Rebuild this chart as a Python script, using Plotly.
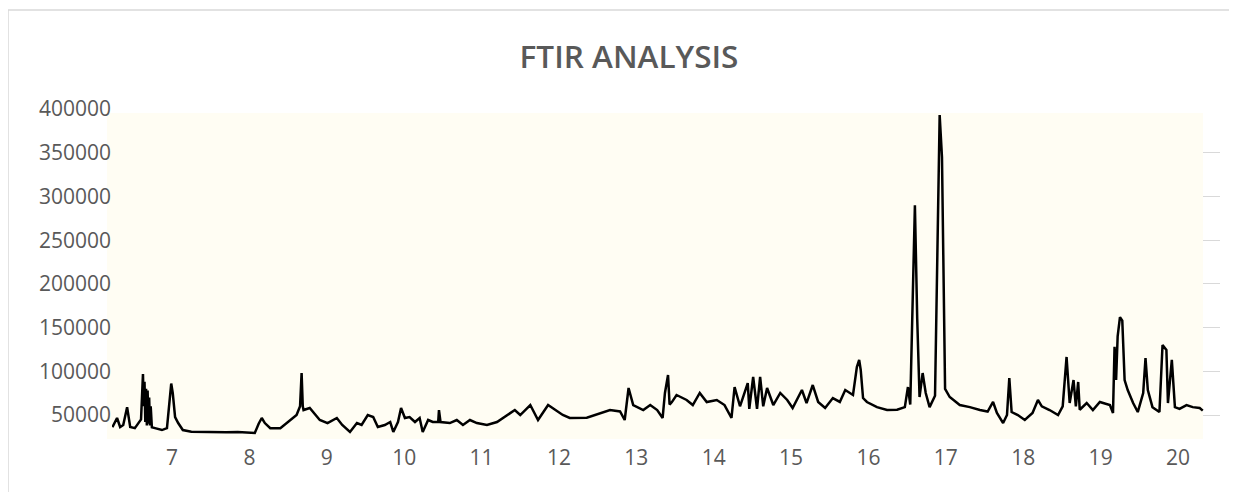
import plotly.graph_objects as go

title_text = "FTIR ANALYSIS"

wavenumber = [
    6.23, 6.29, 6.33, 6.37, 6.42, 6.46, 6.52, 6.57, 6.60, 6.625, 6.635, 6.645, 6.655, 6.665,
    6.675, 6.685, 6.695, 6.705, 6.715, 6.725, 6.74, 6.78, 6.87, 6.935, 6.96, 6.99, 7.01, 7.04,
    7.08, 7.14, 7.25, 7.4, 7.55, 7.7, 7.85, 8.0, 8.07, 8.12, 8.16, 8.20, 8.27, 8.40, 8.50, 8.61,
    8.655, 8.675, 8.69, 8.70, 8.78, 8.91, 9.01, 9.13, 9.20, 9.30, 9.39, 9.45, 9.53, 9.60, 9.66,
    9.75, 9.82, 9.86, 9.92, 9.96, 10.01, 10.07, 10.14, 10.20, 10.24, 10.31, 10.37, 10.44, 10.45,
    10.47, 10.59, 10.68, 10.76, 10.85, 10.94, 11.07, 11.20, 11.28, 11.34, 11.43, 11.50, 11.63,
    11.73, 11.86, 12.05, 12.14, 12.36, 12.53, 12.66, 12.79, 12.85, 12.90, 12.96, 13.09, 13.18,
    13.27, 13.34, 13.37, 13.41, 13.43, 13.46, 13.52, 13.65, 13.73, 13.82, 13.91, 14.04, 14.14,
    14.23, 14.27, 14.34, 14.44, 14.46, 14.51, 14.56, 14.60, 14.64, 14.69, 14.77, 14.86, 14.95,
    15.02, 15.14, 15.20, 15.28, 15.35, 15.44, 15.54, 15.63, 15.70, 15.80, 15.85, 15.88, 15.90,
    15.93, 15.98, 16.11, 16.24, 16.37, 16.47, 16.51, 16.54, 16.565, 16.60, 16.63, 16.66, 16.70,
    16.74, 16.79, 16.86, 16.92, 16.95, 16.99, 17.02, 17.05, 17.18, 17.31, 17.44, 17.54, 17.61,
    17.66, 17.74, 17.79, 17.82, 17.85, 17.93, 18.02, 18.12, 18.19, 18.24, 18.34, 18.45, 18.51,
    18.56, 18.60, 18.65, 18.68, 18.71, 18.73, 18.82, 18.90, 18.99, 19.12, 19.16, 19.18, 19.20,
    19.22, 19.25, 19.28, 19.31, 19.35, 19.42, 19.48, 19.55, 19.58, 19.61, 19.67, 19.76, 19.80,
    19.85, 19.87, 19.92, 19.96, 20.02, 20.11, 20.19, 20.28, 20.32,
]

intensity = [
    36000, 46600, 36300, 38600, 59000, 36300, 35000, 40800, 45000, 97000, 60000, 88000, 42000, 80000,
    38000, 78000, 40000, 70000, 38000, 60000, 36000, 35000, 32800, 35000, 60000, 86000, 75000, 47700,
    40800, 32800, 31000, 30600, 30800, 30200, 30500, 29800, 29400, 40000, 46600, 40800, 35000, 35000, 42000, 50000,
    60000, 98000, 60000, 55700, 58000, 44300, 40800, 46600, 38600, 30600, 40800, 38600, 50000, 47700, 36300,
    38600, 42000, 30600, 42000, 58000, 46600, 47700, 42000, 46600, 30600, 44300, 42000, 42000, 55700,
    42000, 40800, 44300, 38600, 44300, 40800, 38600, 42000, 46600, 50000, 55700, 50000, 61400,
    44300, 61400, 50000, 46600, 47000, 52300, 55700, 54000, 44300, 80900, 61400, 55700, 61400,
    55700, 46600, 75200, 95800, 62000, 64800, 72900, 67200, 61400, 75200, 64800, 67200, 61400,
    46600, 82000, 60000, 86600, 57000, 93500, 57000, 93500, 60000, 80900, 61400, 75200, 67200,
    58000, 78600, 63700, 84300, 64900, 58000, 69400, 65000, 78600, 72900, 104900, 113000, 101500,
    69400, 64900, 59000, 55700, 56000, 59000, 82000, 62000, 170000, 290000, 160000, 70600, 98000,
    75200, 59000, 72000, 393000, 345000, 80000, 75000, 70600, 61400, 59000, 55700, 54000, 64900,
    52300, 40800, 50000, 92300, 53400, 50000, 44300, 52300, 67200, 60000, 55700, 50000, 60000,
    116400, 63700, 90000, 60000, 87800, 56000, 63700, 55700, 64900, 61400, 52300, 128000, 90000,
    140000, 162000, 158000, 90000, 78600, 63700, 53400, 75200, 115200, 78600, 59000, 53400, 130100,
    124400, 63700, 113000, 59000, 57000, 61400, 59000, 58000, 55000,
]

x_ticks = list(range(7, 21))
y_ticks = [50000, 100000, 150000, 200000, 250000, 300000, 350000, 400000]

# the page body adds an 8 px offset; positions below are in screenshot pixels
OFF = 8
W, H = 1237 - OFF, 492 - OFF
L, R, T, B = 112, 1220, 109, 443
X_RANGE = [6.2248, 20.5426]
Y_RANGE = [18000, 400000]


def px_x(p):
    return (p - L) / (R - L)


def px_y(p):
    return (B - p) / (B - T)


def data_x(p):
    return X_RANGE[0] + (p - L) / (R - L) * (X_RANGE[1] - X_RANGE[0])


def data_y(p):
    return Y_RANGE[0] + (B - p) / (B - T) * (Y_RANGE[1] - Y_RANGE[0])


fig = go.Figure()
fig.add_trace(go.Scatter(
    x=wavenumber, y=intensity, mode="lines",
    line=dict(color="#000000", width=2.5),
    showlegend=False, hoverinfo="skip",
))

CREAM = "#FFFDF3"
shapes = [
    # outer chart border
    dict(type="rect", xref="paper", yref="paper",
         x0=px_x(8), x1=px_x(1250), y0=px_y(510), y1=px_y(10),
         line=dict(color="#d9d9d9", width=1.5), fillcolor="rgba(0,0,0,0)", layer="below"),
    # cream backdrop (left strip outside the plot area)
    dict(type="rect", xref="paper", yref="paper",
         x0=px_x(107), x1=px_x(1203), y0=px_y(439), y1=px_y(113),
         line=dict(width=0), fillcolor=CREAM, layer="below"),
    # cream backdrop over the gridlines inside the plot area
    dict(type="rect", xref="x", yref="y",
         x0=X_RANGE[0] - 0.1, x1=data_x(1203), y0=data_y(439), y1=data_y(113),
         line=dict(width=0), fillcolor=CREAM, layer="between"),
    dict(type="rect", xref="x", yref="y",
         x0=X_RANGE[0] - 0.1, x1=data_x(135), y0=data_y(113), y1=Y_RANGE[1] + 10000,
         line=dict(width=0), fillcolor="#ffffff", layer="between"),
]

fig.update_layout(
    width=W, height=H,
    margin=dict(l=L - OFF, r=1237 - R, t=T - OFF, b=492 - B, pad=0),
    paper_bgcolor="#ffffff", plot_bgcolor="#ffffff",
    font=dict(family="Open Sans", color="#595959", size=21),
    title=dict(text=title_text, x=(629 - OFF) / W, xref="container", xanchor="center",
               y=1 - (57 - OFF) / H, yref="container", yanchor="middle",
               font=dict(family="Open Sans", size=31.5, color="#595959", weight=600)),
    shapes=shapes,
    xaxis=dict(range=X_RANGE, tickvals=x_ticks, ticktext=[str(v) for v in x_ticks],
               showgrid=False, zeroline=False, showline=False, ticks="",
               tickfont=dict(size=21, color="#595959")),
    yaxis=dict(range=Y_RANGE, tickvals=y_ticks, ticktext=[str(v) for v in y_ticks],
               showgrid=True, gridcolor="#d9d9d9", gridwidth=1.3, zeroline=False,
               showline=False, ticks="", tickfont=dict(size=21, color="#595959")),
)

fig.write_html("out.html")
